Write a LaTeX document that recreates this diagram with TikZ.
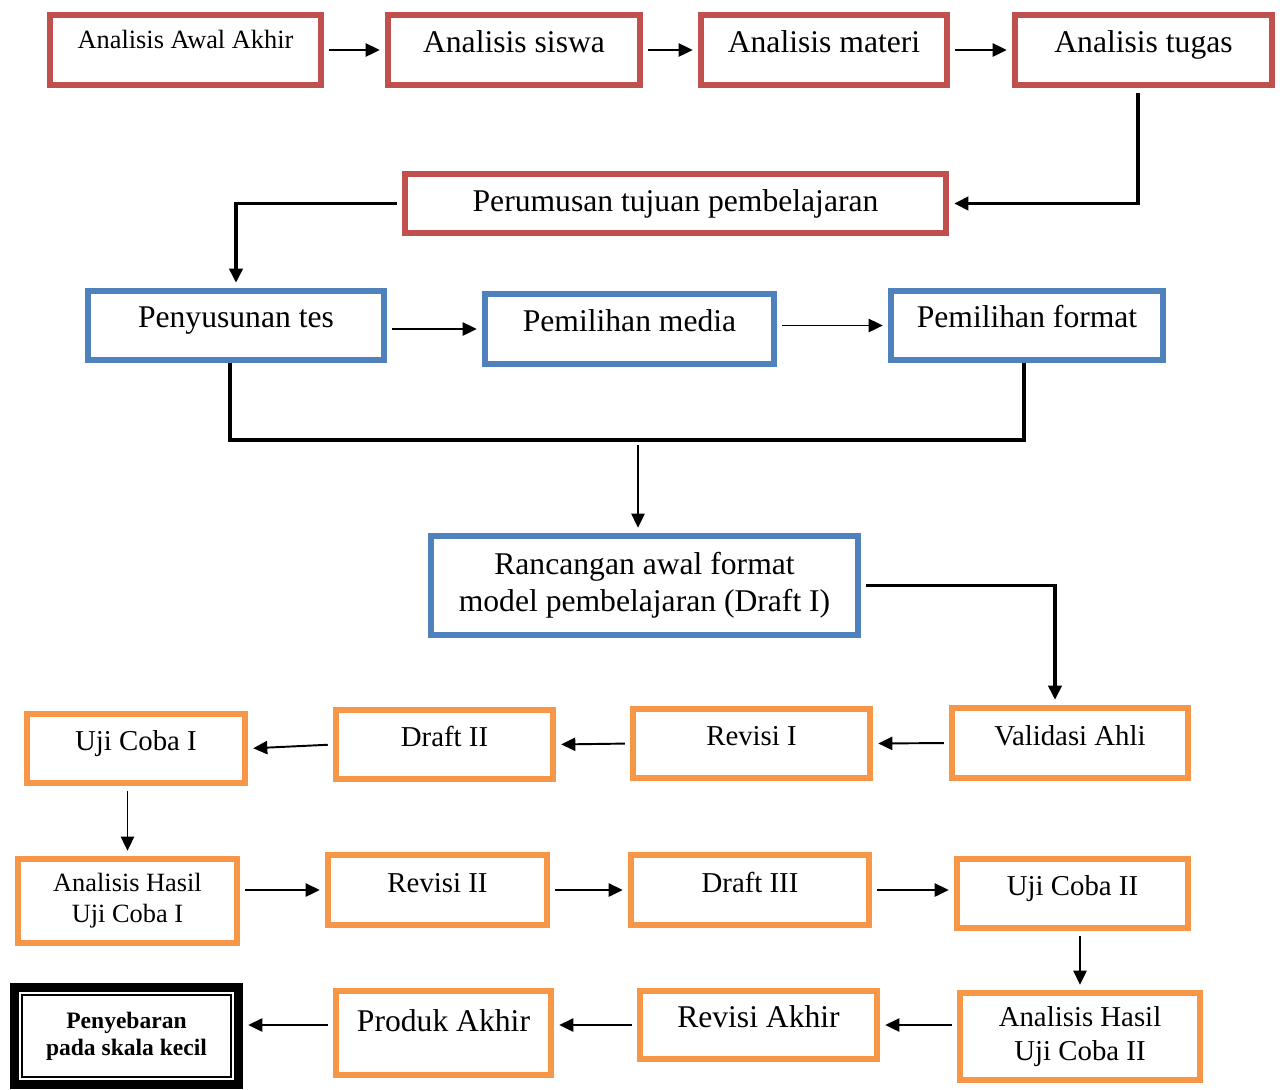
\documentclass[tikz,border=0pt]{standalone}
\usepackage{fontspec}
\setmainfont{Liberation Serif}
\usetikzlibrary{arrows.meta}
\definecolor{boxred}{HTML}{C0504D}
\definecolor{boxblue}{HTML}{4F81BD}
\definecolor{boxorange}{HTML}{F79646}

\begin{document}
\begin{tikzpicture}[x=0.02cm, y=-0.02cm,
  box/.style={draw, line width=0.12cm, inner sep=2pt, align=center},
  oneline/.style={text height=1em, text depth=0.75em},
  highline/.style={text height=1em, text depth=1.2em},
  redbox/.style={box, draw=boxred},
  bluebox/.style={box, draw=boxblue},
  orangebox/.style={box, draw=boxorange},
  bigtext/.style={font=\fontsize{18}{21}\selectfont},
  midtext/.style={font=\fontsize{16.4}{19}\selectfont},
  smalltext/.style={font=\fontsize{15}{17.6}\selectfont},
  flow/.style={-{Triangle[length=8pt,width=7.5pt]}, line width=1.1pt, shorten <=3pt, shorten >=3pt},
  link/.style={line width=1.9pt}]
\useasboundingbox (0,0) rectangle (1283,1089);

% analisis
\node[redbox, smalltext, highline, minimum width=5.42cm, minimum height=1.4cm] (awal) at (185.5,50) {Analisis Awal Akhir};
\node[redbox, bigtext, oneline, minimum width=5.04cm, minimum height=1.4cm] (siswa) at (514,50) {Analisis siswa};
\node[redbox, bigtext, oneline, minimum width=4.92cm, minimum height=1.4cm] (materi) at (824,50) {Analisis materi};
\node[redbox, bigtext, oneline, minimum width=5.14cm, minimum height=1.4cm] (tugas) at (1143.5,50) {Analisis tugas};
\node[redbox, bigtext, minimum width=10.82cm, minimum height=1.18cm] (tujuan) at (675.5,203.5) {Perumusan tujuan pembelajaran};

% perancangan
\node[bluebox, bigtext, oneline, minimum width=5.92cm, minimum height=1.38cm] (tes) at (236,325.5) {Penyusunan tes};
\node[bluebox, bigtext, oneline, minimum width=5.78cm, minimum height=1.4cm] (media) at (629.5,329) {Pemilihan media};
\node[bluebox, bigtext, oneline, minimum width=5.44cm, minimum height=1.38cm] (format) at (1027,325.5) {Pemilihan format};
\node[bluebox, bigtext, minimum width=8.54cm, minimum height=1.98cm] (draft1) at (644.5,585.5) {Rancangan awal format\\model pembelajaran (Draft I)};

% pengembangan
\node[orangebox, midtext, oneline, minimum width=4.36cm, minimum height=1.38cm] (uji1) at (136,748.5) {Uji Coba I};
\node[orangebox, midtext, oneline, minimum width=4.34cm, minimum height=1.38cm] (draft2) at (444.5,744.5) {Draft II};
\node[orangebox, midtext, oneline, minimum width=4.74cm, minimum height=1.38cm] (revisi1) at (751.5,743.5) {Revisi I};
\node[orangebox, midtext, oneline, minimum width=4.72cm, minimum height=1.4cm] (validasi) at (1070,743) {Validasi Ahli};

\node[orangebox, smalltext, minimum width=4.38cm, minimum height=1.68cm] (hasil1) at (127.5,901) {Analisis Hasil\\Uji Coba I};
\node[orangebox, midtext, oneline, minimum width=4.38cm, minimum height=1.4cm] (revisi2) at (437.5,890) {Revisi II};
\node[orangebox, midtext, oneline, minimum width=4.76cm, minimum height=1.4cm] (draft3) at (750,890) {Draft III};
\node[orangebox, midtext, oneline, minimum width=4.62cm, minimum height=1.38cm] (uji2) at (1072.5,893.5) {Uji Coba II};

\node[orangebox, midtext, minimum width=4.8cm, minimum height=1.74cm] (hasil2) at (1080,1036.5) {Analisis Hasil\\Uji Coba II};
\node[orangebox, bigtext, oneline, minimum width=4.74cm, minimum height=1.36cm] (revisiakhir) at (758.5,1025) {Revisi Akhir};
\node[orangebox, bigtext, highline, minimum width=4.3cm, minimum height=1.68cm] (produk) at (443.5,1033) {Produk Akhir};

% penyebaran
\node[draw, line width=0.18cm, minimum width=4.48cm, minimum height=1.94cm, align=center, font=\bfseries\fontsize{13.4}{15.3}\selectfont] (sebar) at (126.5,1036) {Penyebaran\\pada skala kecil};
\draw[line width=1pt] ([shift={(0.24cm,-0.24cm)}]sebar.north west) rectangle ([shift={(-0.24cm,0.24cm)}]sebar.south east);

% arrows
\draw[flow] (awal.east) -- (siswa.west);
\draw[flow] (siswa.east) -- (materi.west);
\draw[flow] (materi.east) -- (tugas.west);
\draw[flow, link] ([xshift=-0.11cm]tugas.south) |- (tujuan.east);
\draw[flow, link] (tujuan.west) -| (tes.north);
\draw[flow] (media.west -| tes.east) -- (media.west);
\draw[flow] (format.west -| media.east) -- (format.west);
\coordinate (merge) at (638,440);
\draw[link] ([xshift=-0.12cm]tes.south) |- (merge) -| ([xshift=-0.06cm]format.south);
\draw[flow] (merge) -- (merge |- draft1.north);
\draw[flow, link] (draft1.east) -| ([xshift=-0.3cm]validasi.north);
\draw[flow] (validasi.west) -- (revisi1.east);
\draw[flow] (revisi1.west) -- (draft2.east);
\draw[flow] (draft2.west) -- (uji1.east);
\draw[flow] (hasil1.north |- uji1.south) -- (hasil1.north);
\draw[flow] (revisi2.west -| hasil1.east) -- (revisi2.west);
\draw[flow] (revisi2.east) -- (draft3.west);
\draw[flow] (draft3.east) -- (draft3.east -| uji2.west);
\draw[flow] (hasil2.north |- uji2.south) -- (hasil2.north);
\draw[flow] (revisiakhir.east -| hasil2.west) -- (revisiakhir.east);
\draw[flow] (revisiakhir.west) -- (revisiakhir.west -| produk.east);
\draw[flow] (revisiakhir.west -| produk.west) -- (revisiakhir.west -| sebar.east);
\end{tikzpicture}
\end{document}
